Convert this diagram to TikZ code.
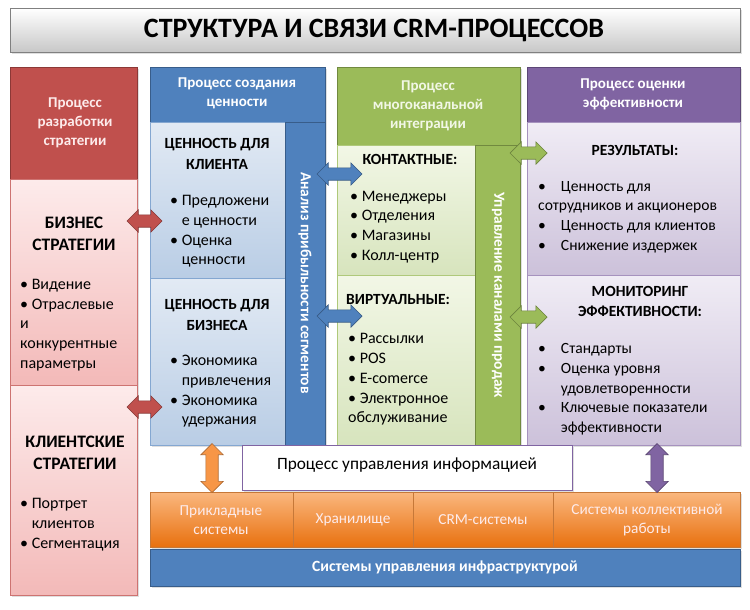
\documentclass[tikz,border=0pt]{standalone}
\usepackage{fontspec}
\setmainfont{Carlito}
\usetikzlibrary{shapes.arrows,shadows}

\definecolor{crmRed}{HTML}{C0504D}
\definecolor{crmRedLine}{HTML}{8C3836}
\definecolor{crmPinkTop}{HTML}{FDEBEB}
\definecolor{crmPinkBot}{HTML}{F3B9B8}
\definecolor{crmBlue}{HTML}{4F81BD}
\definecolor{crmBlueLine}{HTML}{385D8A}
\definecolor{crmSkyTop}{HTML}{E2EAF4}
\definecolor{crmSkyBot}{HTML}{B9CDE5}
\definecolor{crmGreen}{HTML}{9BBB59}
\definecolor{crmGreenLine}{HTML}{71893F}
\definecolor{crmLimeTop}{HTML}{F2F7E6}
\definecolor{crmLimeBot}{HTML}{D7E4BD}
\definecolor{crmPurple}{HTML}{8064A2}
\definecolor{crmPurpleLine}{HTML}{5C4776}
\definecolor{crmLilacTop}{HTML}{F0ECF5}
\definecolor{crmLilacBot}{HTML}{CCC1DA}
\definecolor{crmOrange}{HTML}{F79646}
\definecolor{crmOrangeTop}{HTML}{FAB77E}
\definecolor{crmOrangeBot}{HTML}{E8700E}

\newcommand{\crmbul}{\textbullet\ }
\newcommand{\crmind}{\phantom{\textbullet\ }}

\tikzset{
  panel/.style={draw=#1, line width=0.8pt, anchor=north west, inner sep=0pt,
    drop shadow={opacity=0.25, shadow xshift=1.5pt, shadow yshift=-1.5pt}},
  headtxt/.style={font=\fontsize{15}{19}\selectfont\bfseries, align=center, inner sep=0pt, text=#1},
  boldtxt/.style={font=\fontsize{15.5}{20.5}\selectfont\bfseries, align=center, inner sep=0pt},
  bigtxt/.style={font=\fontsize{17.5}{22.5}\selectfont\bfseries, align=center, inner sep=0pt},
  bodytxt/.style={font=\fontsize{16}{19.7}\selectfont, align=left, inner sep=0pt, anchor=west},
  sidetxt/.style={font=\fontsize{15.4}{18}\selectfont\bfseries, inner sep=0pt, rotate=-90, text=#1},
  barstxt/.style={font=\fontsize{15.3}{19.5}\selectfont, align=center, inner sep=0pt, text=#1},
  dblarrow/.style={double arrow, draw=#1!70!black, fill=#1, line width=0.7pt,
    double arrow head extend=5pt, inner sep=5.8pt, minimum width=0pt}
}

\begin{document}
\begin{tikzpicture}[x=1pt, y=-1pt]
\useasboundingbox (0,0) rectangle (750,610);

% title
\node[panel=black!50, top color=white, bottom color=black!22, minimum width=730, minimum height=44] (title) at (10,8) {};
\node[font=\fontsize{28}{30}\selectfont\bfseries, inner sep=0pt] (titleTxt) at (374,30) {СТРУКТУРА И СВЯЗИ CRM-ПРОЦЕССОВ};

% strategy column
\node[panel=crmRedLine, fill=crmRed, minimum width=127, minimum height=112] (stratHead) at (10,67) {};
\node[panel=crmRed!80, top color=crmPinkTop, bottom color=crmPinkBot, minimum width=127, minimum height=206] (bizStrat) at (10,179) {};
\node[panel=crmRed!80, top color=crmPinkTop, bottom color=crmPinkBot, minimum width=127, minimum height=210] (custStrat) at (10,385) {};
\node[headtxt=crmPinkTop] (stratHeadTxt) at (75,123) {Процесс\\разработки\\стратегии};
\node[bigtxt] (bizStratTxt) at (74,234) {БИЗНЕС\\СТРАТЕГИИ};
\node[bodytxt] (bizStratList) at (20,325) {\crmbul Видение\\\crmbul Отраслевые\\и\\конкурентные\\параметры};
\node[bigtxt] (custStratTxt) at (75,453) {КЛИЕНТСКИЕ\\СТРАТЕГИИ};
\node[bodytxt] (custStratList) at (20,524.5) {\crmbul Портрет\\\crmind клиентов\\\crmbul Сегментация};

% value column
\node[panel=crmBlueLine, fill=crmBlue, minimum width=175, minimum height=55] (valHead) at (150,67) {};
\node[panel=crmBlue!70, top color=crmSkyTop, bottom color=crmSkyBot, minimum width=135, minimum height=156] (custVal) at (150,122) {};
\node[panel=crmBlue!70, top color=crmSkyTop, bottom color=crmSkyBot, minimum width=135, minimum height=167] (bizVal) at (150,278) {};
\node[panel=crmBlueLine, fill=crmBlue, minimum width=40, minimum height=323] (valBar) at (285,122) {};
\node[headtxt=white] (valHeadTxt) at (237,93.5) {Процесс создания\\ценности};
\node[boldtxt] (custValTxt) at (217,154) {ЦЕННОСТЬ ДЛЯ\\КЛИЕНТА};
\node[bodytxt] (custValList) at (170,231.5) {\crmbul Предложени\\\crmind е ценности\\\crmbul Оценка\\\crmind ценности};
\node[boldtxt] (bizValTxt) at (217,315) {ЦЕННОСТЬ ДЛЯ\\БИЗНЕСА};
\node[bodytxt] (bizValList) at (170,391.5) {\crmbul Экономика\\\crmind привлечения\\\crmbul Экономика\\\crmind удержания};
\node[sidetxt=white] (valBarTxt) at (305,283) {Анализ прибыльности сегментов};

% channel column
\node[panel=crmGreenLine, fill=crmGreen, minimum width=183, minimum height=78] (chanHead) at (337,67) {};
\node[panel=crmGreen!80, top color=crmLimeTop, bottom color=crmLimeBot, minimum width=138, minimum height=130] (contChan) at (337,145) {};
\node[panel=crmGreen!80, top color=crmLimeTop, bottom color=crmLimeBot, minimum width=138, minimum height=170] (virtChan) at (337,275) {};
\node[panel=crmGreenLine, fill=crmGreen, minimum width=45, minimum height=300] (chanBar) at (475,145) {};
\node[headtxt=crmLimeTop] (chanHeadTxt) at (428,106) {Процесс\\многоканальной\\интеграции};
\node[boldtxt] (contChanTxt) at (410,159) {КОНТАКТНЫЕ:};
\node[bodytxt] (contChanList) at (350,227) {\crmbul Менеджеры\\\crmbul Отделения\\\crmbul Магазины\\\crmbul Колл-центр};
\node[boldtxt, anchor=west] (virtChanTxt) at (346,300) {ВИРТУАЛЬНЫЕ:};
\node[bodytxt] (virtChanList) at (348,379.5) {\crmbul Рассылки\\\crmbul POS\\\crmbul E-comerce\\\crmbul Электронное\\обслуживание};
\node[sidetxt=white] (chanBarTxt) at (498,295) {Управление каналами продаж};

% performance column
\node[panel=crmPurpleLine, fill=crmPurple, minimum width=213, minimum height=55] (perfHead) at (527,67) {};
\node[panel=crmPurple!70, top color=crmLilacTop, bottom color=crmLilacBot, minimum width=213, minimum height=153] (results) at (527,122) {};
\node[panel=crmPurple!70, top color=crmLilacTop, bottom color=crmLilacBot, minimum width=213, minimum height=170] (monitor) at (527,275) {};
\node[headtxt=white] (perfHeadTxt) at (633,94) {Процесс оценки\\эффективности};
\node[boldtxt] (resultsTxt) at (635,150) {РЕЗУЛЬТАТЫ:};
\node[bodytxt, font=\fontsize{15.6}{19.7}\selectfont] (resultsList) at (538,217) {\textbullet\hspace{15pt}Ценность для\\сотрудников и акционеров\\\textbullet\hspace{15pt}Ценность для клиентов\\\textbullet\hspace{15pt}Снижение издержек};
\node[boldtxt] (monitorTxt) at (640,301.5) {МОНИТОРИНГ\\ЭФФЕКТИВНОСТИ:};
\node[bodytxt, font=\fontsize{15.6}{19.7}\selectfont] (monitorList) at (538,389.5) {\textbullet\hspace{15pt}Стандарты\\\textbullet\hspace{15pt}Оценка уровня\\\phantom{\textbullet}\hspace{15pt}удовлетворенности\\\textbullet\hspace{15pt}Ключевые показатели\\\phantom{\textbullet}\hspace{15pt}эффективности};

% systems
\node[panel=crmOrange!80!black, top color=crmOrangeTop, bottom color=crmOrangeBot, minimum width=143, minimum height=55] (appSys) at (150,492) {};
\node[panel=crmOrange!80!black, top color=crmOrangeTop, bottom color=crmOrangeBot, minimum width=120, minimum height=55] (storage) at (293,492) {};
\node[panel=crmOrange!80!black, top color=crmOrangeTop, bottom color=crmOrangeBot, minimum width=140, minimum height=55] (crmSys) at (413,492) {};
\node[panel=crmOrange!80!black, top color=crmOrangeTop, bottom color=crmOrangeBot, minimum width=187, minimum height=55] (groupSys) at (553,492) {};
\node[barstxt=crmPinkTop] (appSysTxt) at (221,520) {Прикладные\\системы};
\node[barstxt=crmPinkTop] (storageTxt) at (353,520) {Хранилище};
\node[barstxt=crmPinkTop] (crmSysTxt) at (483,520) {CRM-системы};
\node[barstxt=crmPinkTop] (groupSysTxt) at (647,520) {Системы коллективной\\работы};
\node[panel=crmBlueLine, fill=crmBlue, minimum width=590, minimum height=37] (infraSys) at (150,549) {};
\node[headtxt=white, font=\fontsize{15.6}{19}\selectfont\bfseries] (infraSysTxt) at (445,567) {Системы управления инфраструктурой};

% information management
\node[panel=crmPurple, fill=white, line width=1.3pt, minimum width=330, minimum height=45] (infoMgmt) at (242,445) {};
\node[barstxt=black, font=\fontsize{17.3}{20}\selectfont] (infoMgmtTxt) at (407,465) {Процесс управления информацией};

% arrows
\node[dblarrow=crmRed, minimum height=35] (arrBiz) at (144.5,221) {};
\node[dblarrow=crmRed, minimum height=35] (arrCust) at (144.5,407) {};
\node[dblarrow=crmBlue, minimum height=45] (arrCont) at (339.5,174) {};
\node[dblarrow=crmBlue, minimum height=45] (arrVirt) at (339.5,316) {};
\node[dblarrow=crmGreen, minimum height=37] (arrRes) at (528.5,153) {};
\node[dblarrow=crmGreen, minimum height=37] (arrMon) at (528.5,317) {};
\node[dblarrow=crmOrange, minimum height=49, shape border rotate=90] (arrApp) at (212,468) {};
\node[dblarrow=crmPurple, minimum height=49, shape border rotate=90] (arrGroup) at (657,468) {};
\end{tikzpicture}
\end{document}
